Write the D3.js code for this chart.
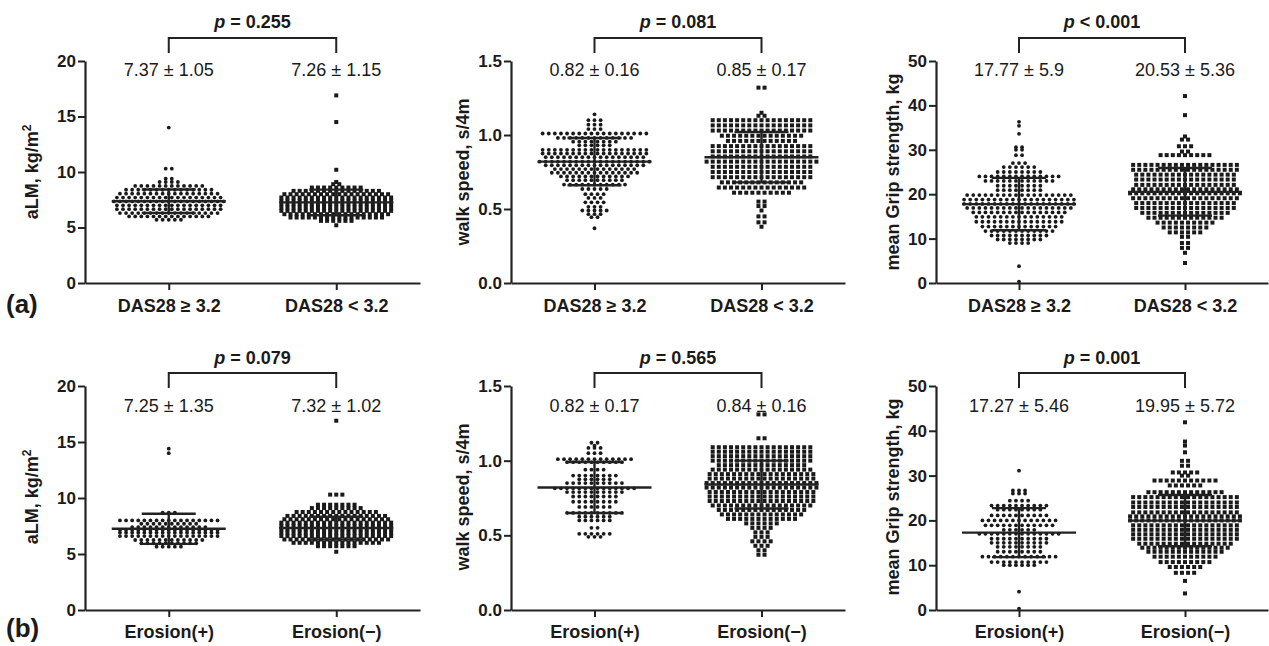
<!DOCTYPE html>
<html>
<head>
<meta charset="utf-8">
<script src="https://cdn.jsdelivr.net/npm/d3@7"></script>
<style>
  body { margin: 0; background: #fff; }
  text { font-family: Arial, "Liberation Sans", sans-serif; fill: #1a1a1a; }
</style>
</head>
<body>
<svg id="chart" width="1269" height="646"></svg>
<script>
// rows of the dot plots: [value, number of dots in that row]
let almDasHigh = [[14.0,1],[10.3,2],[9.4,2],[9.1,4],[8.75,12],[8.4,15],[8.05,17],[7.7,18],[7.35,19],[7.0,18],[6.65,18],[6.3,17],[6.0,14],[5.7,5]];
let almDasLow = [[16.9,1],[14.5,1],[10.2,1],[9.1,1],[8.9,2],[8.6,9],[8.3,15],[8.0,18],[7.7,19],[7.4,19],[7.1,19],[6.8,19],[6.5,19],[6.2,18],[5.9,16],[5.6,6],[5.2,1]];
let walkDasHigh = [[1.14,1],[1.10,3],[1.07,3],[1.04,3],[1.01,18],[0.98,13],[0.955,8],[0.93,6],[0.90,18],[0.875,18],[0.85,17],[0.82,19],[0.795,17],[0.77,14],[0.745,15],[0.72,12],[0.695,10],[0.665,11],[0.635,5],[0.60,4],[0.575,3],[0.545,4],[0.515,3],[0.49,5],[0.465,3],[0.445,2],[0.37,1]];
let walkDasLow = [[1.32,2],[1.15,1],[1.13,2],[1.10,17],[1.065,17],[1.03,17],[0.995,14],[0.96,12],[0.925,17],[0.89,17],[0.855,17],[0.82,19],[0.785,17],[0.75,17],[0.715,17],[0.68,14],[0.645,15],[0.61,10],[0.55,2],[0.52,2],[0.49,1],[0.45,2],[0.41,2],[0.38,1]];
let gripDasHigh = [[36.3,1],[35.4,1],[33.6,1],[30.6,2],[30.0,2],[28.8,2],[27.0,3],[26.1,6],[25.0,8],[24.0,14],[23.0,12],[21.9,8],[20.9,8],[19.8,18],[18.8,19],[17.8,19],[16.9,18],[15.9,16],[14.9,15],[13.8,15],[12.7,13],[11.7,12],[10.7,10],[9.8,8],[9.0,4],[3.8,1],[0.3,1]];
let gripDasLow = [[42.1,1],[37.8,1],[33.0,1],[32.3,2],[30.8,3],[29.6,2],[28.8,9],[26.6,18],[25.5,18],[24.4,17],[23.3,17],[22.1,17],[21.1,18],[20.2,19],[19.1,18],[18.0,17],[16.9,17],[15.8,15],[14.7,13],[13.6,10],[12.5,8],[11.4,6],[10.4,2],[9.0,2],[7.9,2],[6.8,1],[4.5,1]];

let almEroPos = [[14.4,1],[14.0,1],[8.7,3],[8.0,17],[7.7,10],[7.4,13],[7.15,17],[6.9,17],[6.6,17],[6.25,12],[5.95,10],[5.65,5]];
let almEroNeg = [[16.9,1],[10.3,3],[9.4,7],[9.1,9],[8.75,14],[8.4,17],[8.1,18],[7.8,19],[7.5,19],[7.2,19],[6.9,19],[6.6,19],[6.3,18],[6.0,15],[5.7,7],[5.2,1]];
let walkEroPos = [[1.12,2],[1.10,1],[1.085,3],[1.05,3],[1.01,13],[0.99,10],[0.94,4],[0.90,8],[0.875,6],[0.85,10],[0.815,14],[0.79,10],[0.76,8],[0.725,8],[0.69,6],[0.65,10],[0.625,6],[0.60,6],[0.55,2],[0.51,6],[0.49,3]];
let walkEroNeg = [[1.31,2],[1.15,2],[1.09,17],[1.06,17],[1.03,17],[1.0,17],[0.97,15],[0.94,17],[0.91,18],[0.88,18],[0.85,19],[0.82,19],[0.79,18],[0.76,18],[0.73,18],[0.70,17],[0.67,15],[0.64,14],[0.61,12],[0.58,6],[0.55,4],[0.52,3],[0.49,3],[0.46,4],[0.43,3],[0.40,2],[0.37,2]];
let gripEroPos = [[31.1,1],[26.7,3],[26.0,3],[24.4,4],[23.3,10],[22.4,8],[21.1,10],[20.0,13],[18.9,12],[17.9,6],[17.0,14],[15.9,10],[15.0,10],[14.1,8],[13.0,8],[11.9,13],[10.7,10],[10.0,6],[4.1,1],[0.3,1]];
let gripEroNeg = [[41.9,1],[37.6,1],[36.7,1],[35.2,1],[33.3,2],[32.2,2],[30.7,5],[30.0,2],[28.9,11],[27.8,6],[26.3,13],[25.2,18],[24.0,18],[23.0,18],[21.8,18],[20.9,19],[20.0,19],[18.9,18],[17.9,18],[16.9,18],[15.9,18],[14.8,16],[13.9,15],[13.0,13],[11.9,11],[10.7,9],[9.6,6],[8.3,4],[6.5,1],[3.7,1]];

// mean, SD per group
let almDasStats = [[7.37,1.05],[7.26,1.15]];
let walkDasStats = [[0.82,0.16],[0.85,0.17]];
let gripDasStats = [[17.77,5.9],[20.53,5.36]];
let almEroStats = [[7.25,1.35],[7.32,1.02]];
let walkEroStats = [[0.82,0.17],[0.84,0.16]];
let gripEroStats = [[17.27,5.46],[19.95,5.72]];

let dasPValues = ['= 0.255', '= 0.081', '< 0.001'];
let eroPValues = ['= 0.079', '= 0.565', '= 0.001'];

let dasGroups = ['DAS28 \u2265 3.2', 'DAS28 < 3.2'];
let eroGroups = ['Erosion(+)', 'Erosion(\u2212)'];

let almTicks = [0, 5, 10, 15, 20];
let walkTicks = [0, 0.5, 1.0, 1.5];
let gripTicks = [0, 10, 20, 30, 40, 50];

let svg = d3.select('#chart');

let columns = [
    {left: 85, right: 420, titleX: 38, ticks: almTicks, fmt: d3.format('d'), title: 'alm'},
    {left: 511, right: 845, titleX: 469, ticks: walkTicks, fmt: d3.format('.1f'), title: 'walk speed, s/4m'},
    {left: 936, right: 1268, titleX: 899, ticks: gripTicks, fmt: d3.format('d'), title: 'mean Grip strength, kg'}
];
let rows = [
    {top: 61, bottom: 283, pY: 28, brY: 38, tipY: 53, statY: 76, labelY: 312, titleY: 172, tag: '(a)', tagY: 313,
     labels: dasGroups, pvals: dasPValues,
     data: [[almDasHigh, almDasLow], [walkDasHigh, walkDasLow], [gripDasHigh, gripDasLow]],
     stats: [almDasStats, walkDasStats, gripDasStats]},
    {top: 386, bottom: 610, pY: 364, brY: 373, tipY: 388, statY: 412, labelY: 638, titleY: 497, tag: '(b)', tagY: 637,
     labels: eroGroups, pvals: eroPValues,
     data: [[almEroPos, almEroNeg], [walkEroPos, walkEroNeg], [gripEroPos, gripEroNeg]],
     stats: [almEroStats, walkEroStats, gripEroStats]}
];

let ink = '#1a1a1a';
let dotGap = 6.1;

rows.forEach(function (row) {
    columns.forEach(function (col, ci) {
        let g = svg.append('g');
        let yScale = d3.scaleLinear()
            .domain([0, d3.max(col.ticks)])
            .range([row.bottom, row.top]);
        let xScale = d3.scalePoint()
            .domain(row.labels)
            .range([col.left, col.right])
            .padding(0.5);

        // dots
        row.data[ci].forEach(function (groupRows, gi) {
            let cx = xScale(row.labels[gi]);
            let pts = [];
            groupRows.forEach(function (r) {
                for (let i = 0; i < r[1]; i++) {
                    pts.push({x: cx + (i - (r[1] - 1) / 2) * dotGap, v: r[0]});
                }
            });
            if (gi === 0) {
                g.selectAll(null).data(pts).enter().append('circle')
                    .attr('cx', d => d.x)
                    .attr('cy', d => yScale(d.v))
                    .attr('r', 1.9)
                    .attr('fill', ink);
            } else {
                g.selectAll(null).data(pts).enter().append('rect')
                    .attr('x', d => d.x - 2)
                    .attr('y', d => yScale(d.v) - 2)
                    .attr('width', 4)
                    .attr('height', 4)
                    .attr('fill', ink);
            }

            // mean and SD bars
            let m = row.stats[ci][gi][0], sd = row.stats[ci][gi][1];
            let bars = g.append('g').attr('stroke', '#222').attr('stroke-width', 2.4);
            bars.append('line').attr('x1', cx - 57).attr('x2', cx + 57)
                .attr('y1', yScale(m)).attr('y2', yScale(m));
            bars.append('line').attr('x1', cx).attr('x2', cx)
                .attr('y1', yScale(m - sd)).attr('y2', yScale(m + sd));
            [m - sd, m + sd].forEach(function (v) {
                bars.append('line').attr('x1', cx - 27).attr('x2', cx + 27)
                    .attr('y1', yScale(v)).attr('y2', yScale(v));
            });

            // mean ± SD label
            g.append('text')
                .attr('x', cx).attr('y', row.statY)
                .attr('text-anchor', 'middle')
                .style('font-size', '18px')
                .text(m + ' \u00b1 ' + sd);
        });

        // axes
        let yAxis = d3.axisLeft(yScale).tickValues(col.ticks).tickFormat(col.fmt)
            .tickSize(7).tickPadding(2).tickSizeOuter(0);
        let ya = g.append('g').attr('transform', 'translate(' + col.left + ',0)').call(yAxis);
        let xAxis = d3.axisBottom(xScale).tickSize(7).tickPadding(5).tickSizeOuter(0);
        let xa = g.append('g').attr('transform', 'translate(0,' + row.bottom + ')').call(xAxis);
        [ya, xa].forEach(function (a) {
            a.select('.domain').attr('stroke', '#222').attr('stroke-width', 2.2);
            a.selectAll('.tick line').attr('stroke', '#222').attr('stroke-width', 2);
            a.selectAll('.tick text').attr('fill', ink).style('font-weight', 'bold')
                .style('font-family', 'Arial, "Liberation Sans", sans-serif');
        });
        ya.selectAll('.tick text').style('font-size', '17px');
        xa.selectAll('.tick text').style('font-size', '18px').attr('dy', null)
            .attr('y', row.labelY - row.bottom);

        // y title
        let title = g.append('text')
            .attr('transform', 'translate(' + col.titleX + ',' + row.titleY + ') rotate(-90)')
            .attr('text-anchor', 'middle')
            .style('font-size', '18px')
            .style('font-weight', 'bold');
        if (col.title === 'alm') {
            title.append('tspan').text('aLM, kg/m');
            title.append('tspan').text('2').attr('dy', -7).style('font-size', '12px');
        } else {
            title.text(col.title);
        }

        // bracket with p value
        let x1 = xScale(row.labels[0]), x2 = xScale(row.labels[1]);
        g.append('path')
            .attr('d', 'M' + x1 + ',' + row.tipY + 'V' + row.brY + 'H' + x2 + 'V' + row.tipY)
            .attr('fill', 'none').attr('stroke', '#222').attr('stroke-width', 2);
        let pt = g.append('text')
            .attr('x', (x1 + x2) / 2).attr('y', row.pY)
            .attr('text-anchor', 'middle')
            .style('font-size', '18px').style('font-weight', 'bold');
        pt.append('tspan').text('p').style('font-style', 'italic');
        pt.append('tspan').text(' ' + row.pvals[ci]);
    });

    svg.append('text')
        .attr('x', 6).attr('y', row.tagY)
        .style('font-size', '26px').style('font-weight', 'bold')
        .text(row.tag);
});
</script>
</body>
</html>
